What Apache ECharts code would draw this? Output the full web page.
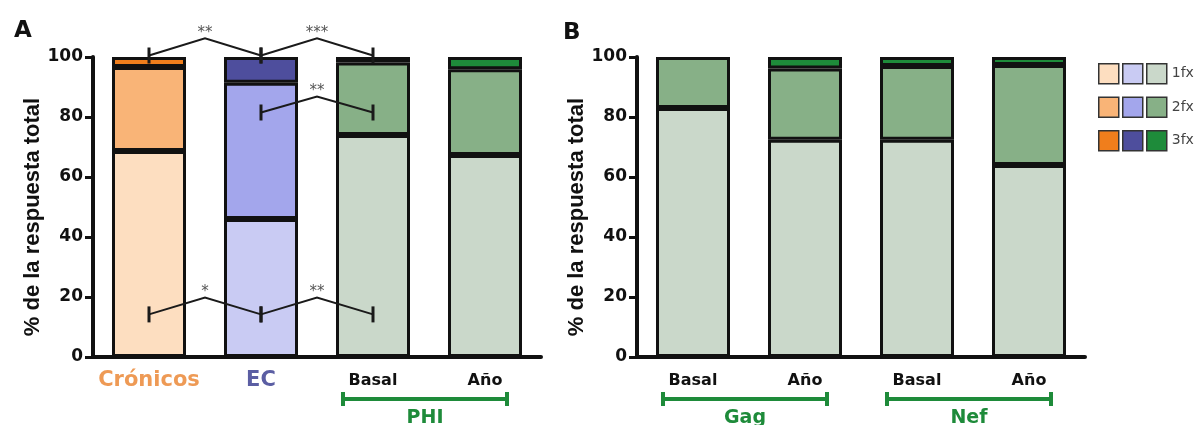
<!DOCTYPE html>
<html><head><meta charset="utf-8">
<script src="https://cdn.jsdelivr.net/npm/echarts@6/dist/echarts.min.js"></script>
<style>html,body{margin:0;padding:0;background:#fff}#c{width:1199px;height:425px}</style>
</head><body><div id="c"></div>
<script>
// ---------- data ----------
const catsA = ['Crónicos', 'EC', 'Basal', 'Año'];
const catsB = ['Basal', 'Año', 'Basal', 'Año'];
const levels = ['1fx', '2fx', '3fx'];
// panel A segment sizes (% of total response)
const fx1A = [68.7, 46.0, 74.0, 67.3];
const fx2A = [28.0, 45.4, 24.2, 28.6];
const fx3A = [3.3, 8.6, 1.8, 4.1];
// panel B segment sizes
const fx1B = [83.0, 72.4, 72.4, 64.0];
const fx2B = [17.0, 23.8, 24.6, 33.3];
const fx3B = [null, 3.8, 3.0, 2.7];
// groups of panel A (category indices)
const groupNamesA = ['Crónicos', 'EC', 'PHI'];
const groupIdxA = [[0], [1], [2, 3]];
// significance brackets panel A: [fromCat, toCat, endValue, peakValue, label]
const sigBrackets = [
  [0, 1, 100.5, 106.2, '**'],
  [1, 2, 100.5, 106.2, '***'],
  [1, 2, 81.5, 86.8, '**'],
  [0, 1, 14.2, 19.8, '*'],
  [1, 2, 14.2, 19.8, '**']
];
// group brackets under axes: [gridIndex, fromCat, toCat, label]
const groupBrackets = [
  [0, 2, 3, 'PHI'],
  [1, 0, 1, 'Gag'],
  [1, 2, 3, 'Nef']
];

// ---------- style ----------
const palette = {
  'Crónicos': ['#FDDEC0', '#F9B477', '#F07E1C'],
  'EC': ['#C9CBF3', '#A3A6EC', '#4E4E9D'],
  'PHI': ['#CAD8CA', '#87B087', '#1E8B3A']
};
const GREEN = '#1E8B3A';
const INK = '#111';
const BW = 3;

const valsA = [fx1A, fx2A, fx3A];
const valsB = [fx1B, fx2B, fx3B];

const barBase = {
  type: 'bar', barWidth: 74, animation: false,
  emphasis: { disabled: true }
};

const series = [];
groupNamesA.forEach((g, gi) => {
  levels.forEach((l, li) => {
    series.push(Object.assign({}, barBase, {
      name: g + ' ' + l, xAxisIndex: 0, yAxisIndex: 0, stack: 'a',
      itemStyle: { color: palette[g][li], borderColor: INK, borderWidth: BW },
      data: catsA.map((_, i) => groupIdxA[gi].includes(i) ? valsA[li][i] : null)
    }));
  });
});
levels.forEach((l, li) => {
  series.push(Object.assign({}, barBase, {
    name: 'B ' + l, xAxisIndex: 1, yAxisIndex: 1, stack: 'b',
    itemStyle: { color: palette['PHI'][li], borderColor: INK, borderWidth: BW },
    data: valsB[li]
  }));
});

function yAxis(gi) {
  return {
    gridIndex: gi, type: 'value', min: 0, max: 100, interval: 20,
    name: '% de la respuesta total', nameLocation: 'middle', nameGap: 40, nameRotate: 90,
    nameTextStyle: { fontFamily: 'Liberation Sans', fontWeight: 'bold', fontSize: 22, color: INK, padding: [0, 20, 0, 0] },
    axisLine: { show: true, lineStyle: { color: INK, width: 4 } },
    axisTick: { show: true, length: 8, lineStyle: { color: INK, width: 3 } },
    axisLabel: { margin: 10, fontFamily: 'DejaVu Sans', fontWeight: 'bold', fontSize: 17, color: INK },
    splitLine: { show: false }
  };
}
function xAxis(gi, cats) {
  return {
    gridIndex: gi, type: 'category', data: cats,
    axisLine: { lineStyle: { color: INK, width: 4 } },
    axisTick: { alignWithLabel: true, length: 8, lineStyle: { color: INK, width: 3 } },
    axisLabel: {
      interval: 0, margin: 12,
      formatter: (v) => v === 'Crónicos' ? '{c|' + v + '}' : v === 'EC' ? '{e|' + v + '}' : '{n|' + v + '}',
      rich: {
        c: { fontFamily: 'DejaVu Sans', fontWeight: 'bold', fontSize: 21, color: '#EE9A55', lineHeight: 24 },
        e: { fontFamily: 'DejaVu Sans', fontWeight: 'bold', fontSize: 21, color: '#5B5EA3', lineHeight: 24 },
        n: { fontFamily: 'DejaVu Sans', fontWeight: 'bold', fontSize: 16, color: INK, lineHeight: 24 }
      }
    }
  };
}

const legends = groupNamesA.map((g, gi) => ({
  orient: 'vertical', left: 1098 + gi * 24, top: 63, padding: 0,
  itemWidth: 20, itemHeight: 20, itemGap: 12, icon: 'rect', selectedMode: false,
  data: levels.map(l => g + ' ' + l),
  formatter: gi === 2 ? (n) => n.split(' ')[1] : () => '',
  textStyle: { fontFamily: 'DejaVu Sans', fontSize: 14, color: '#444', lineHeight: 20 },
  itemStyle: { borderColor: '#333', borderWidth: 1.5 }
}));

const option = {
  backgroundColor: '#fff',
  animation: false,
  title: [
    { text: 'A', left: 9, top: 15, textStyle: { fontFamily: 'DejaVu Sans', fontWeight: 'bold', fontSize: 23, color: INK } },
    { text: 'B', left: 558, top: 17, textStyle: { fontFamily: 'DejaVu Sans', fontWeight: 'bold', fontSize: 23, color: INK } }
  ],
  legend: legends,
  grid: [
    { left: 93, top: 57, width: 448, height: 300 },
    { left: 637, top: 57, width: 448, height: 300 }
  ],
  xAxis: [xAxis(0, catsA), xAxis(1, catsB)],
  yAxis: [yAxis(0), yAxis(1)],
  series: series
};

const chart = echarts.init(document.getElementById('c'), null, { renderer: 'canvas' });
chart.setOption(option);

// ---------- annotations computed from axes ----------
function px(gi, cat, val) { return chart.convertToPixel({ gridIndex: gi }, [cat, val]); }
const graphics = [];
const Z = 100;
sigBrackets.forEach(b => {
  const p0 = px(0, b[0], b[2]);
  const p1 = px(0, b[1], b[2]);
  const pk = px(0, b[0], b[3]);
  const mx = (p0[0] + p1[0]) / 2;
  graphics.push({ type: 'polyline', z: Z, silent: true, shape: { points: [p0, [mx, pk[1]], p1] }, style: { stroke: '#1a1a1a', lineWidth: 2, fill: null } });
  [p0, p1].forEach(p => graphics.push({ type: 'line', z: Z, silent: true, shape: { x1: p[0], y1: p[1] - 8, x2: p[0], y2: p[1] + 8 }, style: { stroke: '#1a1a1a', lineWidth: 3 } }));
  graphics.push({ type: 'text', z: Z, silent: true, style: { text: b[4], x: mx, y: pk[1] - 5, textAlign: 'center', textVerticalAlign: 'middle', fill: '#555', font: '15px "DejaVu Sans"' } });
});
groupBrackets.forEach(b => {
  const a = px(b[0], b[1], 0);
  const c = px(b[0], b[2], 0);
  const y = a[1] + 42;
  const x1 = a[0] - 30, x2 = c[0] + 22;
  graphics.push({ type: 'line', z: Z, silent: true, shape: { x1: x1, y1: y, x2: x2, y2: y }, style: { stroke: GREEN, lineWidth: 4 } });
  [x1, x2].forEach(x => graphics.push({ type: 'line', z: Z, silent: true, shape: { x1: x, y1: y - 7, x2: x, y2: y + 7 }, style: { stroke: GREEN, lineWidth: 4 } }));
  graphics.push({ type: 'text', z: Z, silent: true, style: { text: b[3], x: (x1 + x2) / 2, y: y + 19, textAlign: 'center', textVerticalAlign: 'middle', fill: GREEN, font: 'bold 19px "DejaVu Sans"' } });
});
chart.setOption({ graphic: graphics });
</script>
</body></html>
